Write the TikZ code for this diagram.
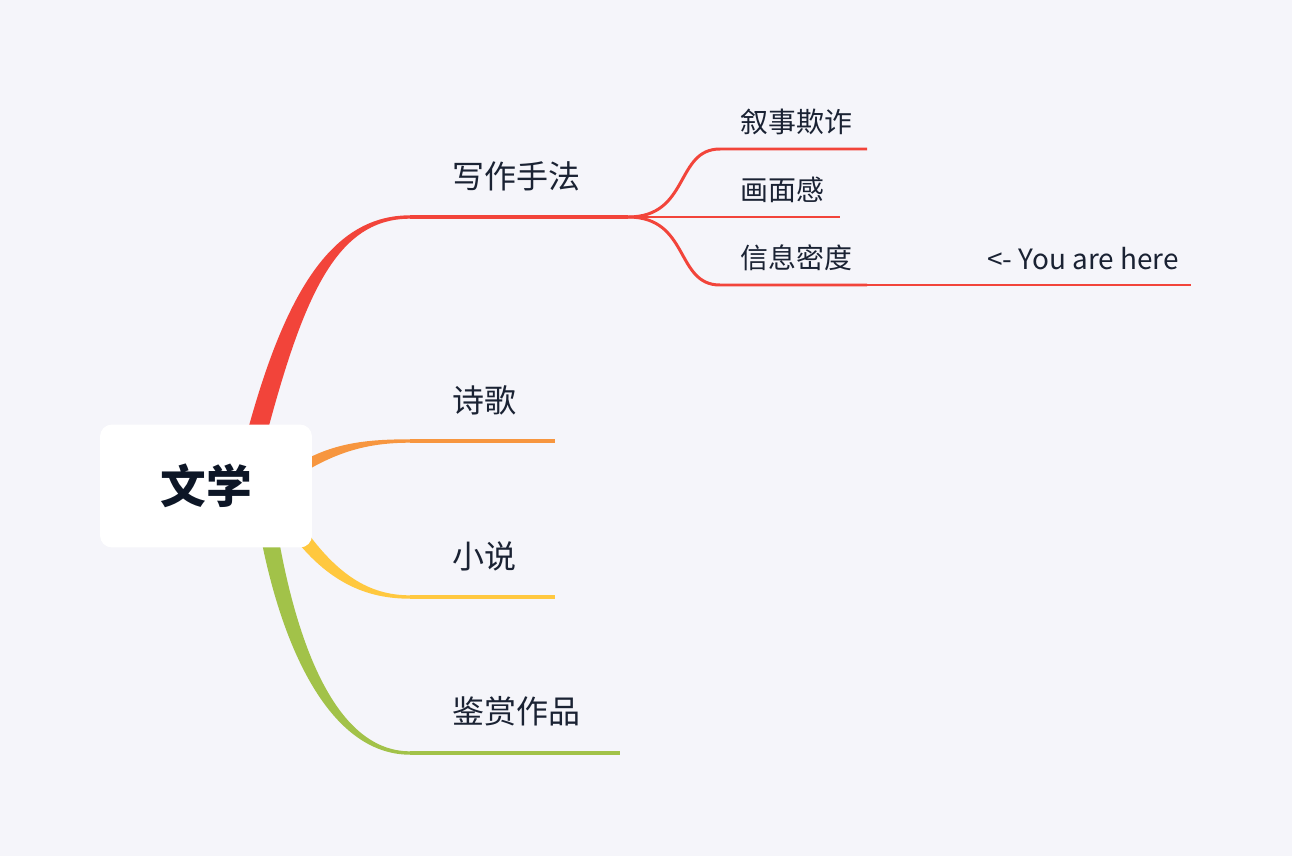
\documentclass[tikz,border=0pt]{standalone}
\usepackage{fontspec}
\setmainfont{Noto Sans CJK SC}
\usetikzlibrary{positioning}
\definecolor{bgc}{HTML}{F5F5FA}
\definecolor{inkc}{HTML}{1A2233}
\definecolor{rootc}{HTML}{0D1626}
\definecolor{redc}{HTML}{F2443A}
\definecolor{orangec}{HTML}{F7963F}
\definecolor{yellowc}{HTML}{FFC83F}
\definecolor{greenc}{HTML}{A2C249}

\begin{document}
\begin{tikzpicture}[
    x=0.02cm, y=-0.02cm,
    rootbox/.style={
      rectangle, rounded corners=0.24cm, fill=white,
      minimum width=4.24cm, minimum height=2.46cm,
      font=\fontsize{26}{30}\selectfont\bfseries, text=rootc
    },
    topic/.style={
      anchor=west, inner sep=0pt,
      font=\fontsize{18.2}{22}\selectfont, text=inkc
    },
    subtopic/.style={
      anchor=west, inner sep=0pt,
      font=\fontsize{15.9}{19}\selectfont, text=inkc
    },
    bline/.style={line width=1.9pt},
    sline/.style={line width=1.7pt},
    tline/.style={line width=1.2pt}
  ]

  \path[use as bounding box, fill=bgc] (0,0) rectangle (1292,856);

  % Line ends
  \coordinate (xz-start) at (410,217);
  \coordinate (fork) at (628,217);
  \coordinate (sg-start) at (410,441);
  \coordinate (sg-end) at (555,441);
  \coordinate (xs-start) at (410,597);
  \coordinate (xs-end) at (555,597);
  \coordinate (js-start) at (410,753);
  \coordinate (js-end) at (620,753);
  \coordinate (xs1-end) at (867,149);
  \coordinate (hm-end) at (840,217);
  \coordinate (xx-end) at (867,285);
  \coordinate (here-end) at (1191,285);

  % Tapered main branches
  \fill[redc] (240,460) .. controls (280,300) and (328,215.3) .. (410,215.3)
    -- (410,218.7) .. controls (334,218.7) and (301,300) .. (260,460) -- cycle;
  \fill[orangec] (290,469) .. controls (328,443) and (365,439.3) .. (410,439.3)
    -- (410,442.7) .. controls (365,442.7) and (332,453) .. (290,481) -- cycle;
  \fill[yellowc] (296,516) .. controls (335,576) and (370,595.3) .. (410,595.3)
    -- (410,598.7) .. controls (368,598.7) and (325,584) .. (284,524) -- cycle;
  \fill[greenc] (256,510) .. controls (277,642) and (328,754.7) .. (410,754.7)
    -- (410,751.3) .. controls (334,751.3) and (293,638) .. (274,510) -- cycle;

  \draw[bline, redc] (xz-start) -- (fork);
  \draw[bline, orangec] (sg-start) -- (sg-end);
  \draw[bline, yellowc] (xs-start) -- (xs-end);
  \draw[bline, greenc] (js-start) -- (js-end);

  % Sub branches
  \draw[sline, redc] (fork) .. controls (690,217) and (675,149) .. (720,149) -- (xs1-end);
  \draw[sline, redc] (fork) -- (hm-end);
  \draw[sline, redc] (fork) .. controls (690,217) and (675,285) .. (720,285) -- (xx-end);
  \draw[tline, redc] (xx-end) -- (here-end);

  % Root
  \node[rootbox] (wenxue) at (206,486) {文学};

  % Labels
  \node[topic] (xiezuo) at (452,176) {写作手法};
  \node[topic] (shige) at (452,400) {诗歌};
  \node[topic] (xiaoshuo) at (452,556) {小说};
  \node[topic] (jianshang) at (452,711) {鉴赏作品};
  \node[subtopic] (xushi) at (740,122) {叙事欺诈};
  \node[subtopic] (huamian) at (740,190) {画面感};
  \node[subtopic] (xinxi) at (740,258) {信息密度};
  \node[subtopic, anchor=base west] (here) at (987,269) {<- You are here};
\end{tikzpicture}
\end{document}
